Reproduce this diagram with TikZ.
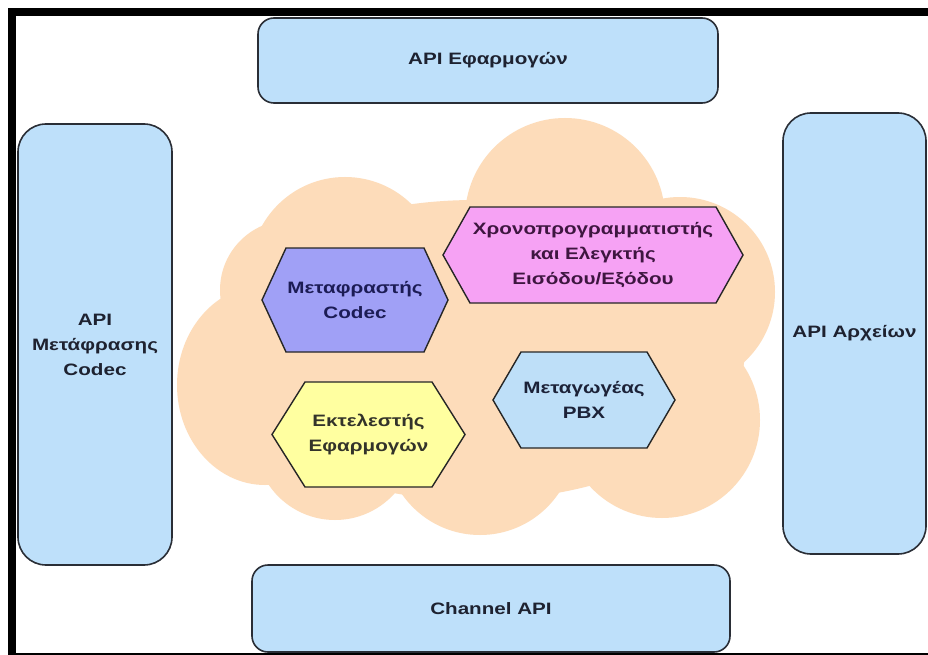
\documentclass[tikz,border=0pt]{standalone}
\usepackage{fontspec}
\newfontfamily\labfont[FakeStretch=1.25]{Liberation Sans}
\definecolor{boxfill}{HTML}{BEE0FA}
\definecolor{boxline}{HTML}{2A2E36}
\definecolor{cloudfill}{HTML}{FDDCBA}
\definecolor{codecfill}{HTML}{A0A0F6}
\definecolor{schedfill}{HTML}{F6A2F4}
\definecolor{execfill}{HTML}{FFFFA0}
\definecolor{pbxfill}{HTML}{BEDFF8}
\definecolor{boxtext}{HTML}{1E2230}
\definecolor{codectext}{HTML}{1C1C55}
\definecolor{schedtext}{HTML}{3E1640}
\definecolor{exectext}{HTML}{33332A}
\definecolor{pbxtext}{HTML}{1C2238}
\tikzset{
  apibox/.style={draw=boxline, line width=1.6pt, fill=boxfill, inner sep=0pt,
    align=center, text=boxtext, font=\labfont\bfseries\fontsize{16.5}{25}\selectfont},
  hexline/.style={draw=black!85, line width=1.4pt, line join=miter},
  hextext/.style={align=center, inner sep=0pt, font=\labfont\bfseries\fontsize{16.5}{25}\selectfont}
}
\newcommand\hexnode[9]{%
  \draw[hexline, fill=#7] (#2-#4,#3) -- (#2-#4+#5,#3-#6) -- (#2+#4-#5,#3-#6) -- (#2+#4,#3)
     -- (#2+#4-#5,#3+#6) -- (#2-#4+#5,#3+#6) -- cycle;
  \node[hextext, text=#8] (#1) at (#2,#3) {#9};
}
\begin{document}
\begin{tikzpicture}[x=1pt,y=-1pt]
\path[use as bounding box, fill=white] (0,0) rectangle (928,655);
% frame
\fill[black] (8,8) rectangle (928,16);
\fill[black] (8,8) rectangle (16,655);
\fill[black] (8,652.5) rectangle (928,655);
% cloud
\begin{scope}[cloudfill]
  \fill (475,350) ellipse [x radius=270, y radius=150];
  \fill (565,218) circle [radius=100];
  \fill (345,272) circle [radius=95];
  \fill (290,290) circle [radius=70];
  \fill (265,385) ellipse [x radius=88, y radius=100];
  \fill (680,292) circle [radius=95];
  \fill (662,420) circle [radius=98];
  \fill (480,440) circle [radius=95];
  \fill (335,440) circle [radius=80];
\end{scope}
% API boxes
\node[apibox, rounded corners=16pt, minimum width=460pt, minimum height=85pt] (appapi) at (488,60.5) {API Εφαρμογών};
\node[apibox, rounded corners=28pt, minimum width=154pt, minimum height=441pt] (codecapi) at (95,344.5) {API\\Μετάφρασης\\Codec};
\node[apibox, rounded corners=28pt, minimum width=143pt, minimum height=441pt] (fileapi) at (854.5,333.5) {API Αρχείων};
\node[apibox, rounded corners=16pt, minimum width=478pt, minimum height=87pt] (chanapi) at (491,608.5) {Channel API};
% hexagons
\hexnode{codec}{355}{300}{93}{24}{52}{codecfill}{codectext}{Μεταφραστής\\Codec}
\hexnode{sched}{593}{255}{150}{27}{48}{schedfill}{schedtext}{Χρονοπρογραμματιστής\\και Ελεγκτής\\Εισόδου/Εξόδου}
\hexnode{exec}{368.5}{434.5}{96.5}{33}{52.5}{execfill}{exectext}{Εκτελεστής\\Εφαρμογών}
\hexnode{pbx}{584}{400}{91}{28}{48}{pbxfill}{pbxtext}{Μεταγωγέας\\PBX}
\end{tikzpicture}
\end{document}
